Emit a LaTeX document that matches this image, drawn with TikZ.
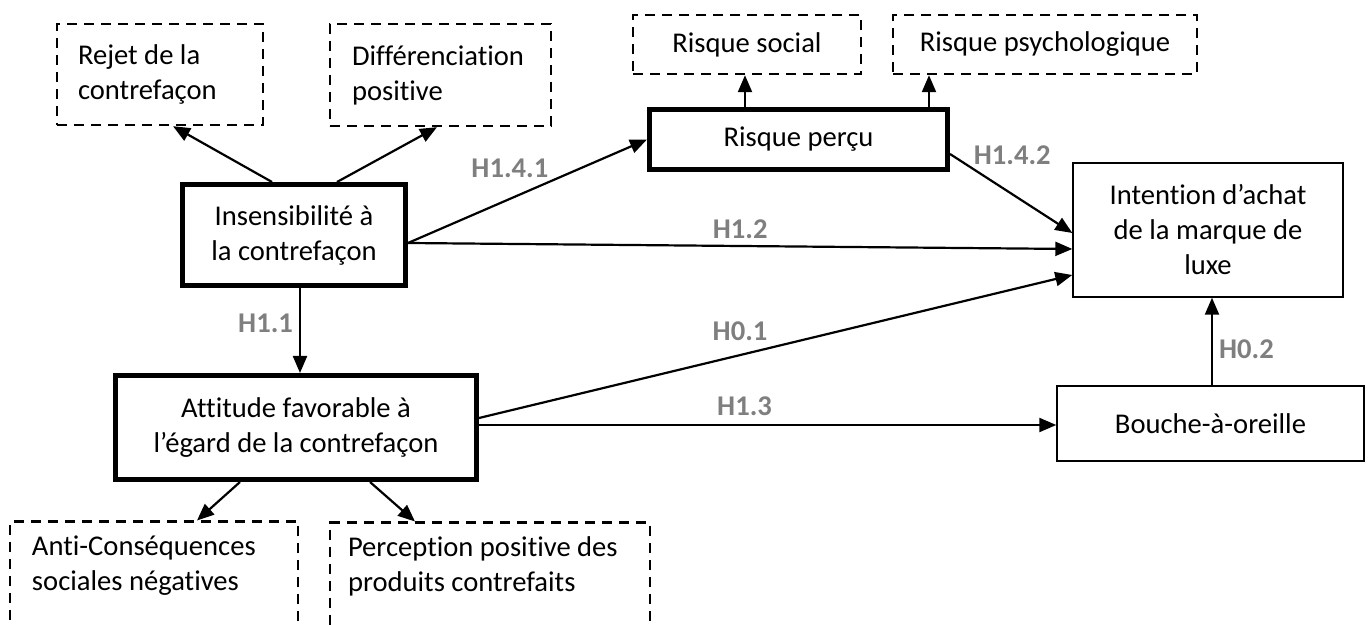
\documentclass[tikz,border=0pt]{standalone}
\usepackage{fontspec}
\setmainfont[Ligatures=CommonOff]{Carlito}
\usetikzlibrary{arrows.meta}

\definecolor{hypgray}{RGB}{127,127,127}

\tikzset{
  construct/.style={draw, line width=2.5pt, align=center, inner sep=2pt},
  dimension/.style={draw, line width=1.2pt, dash pattern=on 5pt off 3.5pt, align=flush left, inner ysep=4pt},
  outcome/.style={draw, line width=0.7pt, align=center},
  link/.style={draw, line width=1.1pt, -{Triangle[length=8.5pt,width=7pt]}},
  hyp/.style={text=hypgray, font=\fontsize{14.3}{16}\selectfont\bfseries, inner sep=1pt},
}

\begin{document}
\begin{tikzpicture}[x=0.5pt, y=-0.5pt, font=\fontsize{14.3}{17.5}\selectfont]
  \useasboundingbox (0,0) rectangle (1372,625);

  % constructs (thick frames)
  \node[construct, minimum width=111.5pt, minimum height=50.5pt] (insens) at (294,235) {Insensibilité à\\la contrefaçon};
  \node[construct, minimum width=180.5pt, minimum height=52pt] (attitude) at (296,427.5) {Attitude favorable à\\l’égard de la contrefaçon};
  \node[construct, minimum width=149pt, minimum height=30pt] (risque) at (798.5,139.5) {Risque perçu};

  % dimensions (dashed frames)
  \node[dimension, minimum height=50.5pt, inner xsep=10.5pt, text width=82pt] (rejet) at (160,74.5) {Rejet de la\\contrefaçon};
  \node[dimension, minimum height=51pt, inner xsep=11pt, text width=88.5pt] (diff) at (440.5,75) {Différenciation\\positive};
  \node[dimension, align=center, minimum width=114pt, minimum height=29.5pt] (social) at (747,44.5) {Risque social};
  \node[dimension, align=center, minimum width=152pt, minimum height=29.5pt] (psycho) at (1045,44.5) {Risque psychologique};
  \node[dimension, anchor=north, inner xsep=11pt, inner ysep=7pt, text width=122pt] (anti) at (154,520.5) {Anti-Conséquences\\sociales négatives\\\mbox{}};
  \node[dimension, anchor=north, inner xsep=9pt, inner ysep=7pt, text width=142pt] (percep) at (490,521.5) {Perception positive des\\produits contrefaits\\\mbox{}};

  % outcomes
  \node[outcome, minimum width=135pt, minimum height=67pt] (intention) at (1208,230) {Intention d’achat\\de la marque de\\luxe};
  \node[outcome, minimum width=153.5pt, minimum height=37.5pt] (bouche) at (1210.5,423.5) {Bouche-à-oreille};

  % construct -> dimension
  \draw[link] ([xshift=-11pt]insens.north) -- ([xshift=6.5pt]rejet.south);
  \draw[link] ([xshift=21.5pt]insens.north) -- ([xshift=-1.75pt]diff.south);
  \draw[link] ([xshift=-28pt]attitude.south) -- ([xshift=21.5pt]anti.north);
  \draw[link] ([xshift=37pt]attitude.south) -- ([xshift=-37.5pt]percep.north);
  \draw[link] ([xshift=-26.75pt]risque.north) -- ([xshift=-1pt]social.south);
  \draw[link] ([xshift=65.25pt]risque.north) -- ([xshift=-58pt]psycho.south);

  % hypotheses
  \draw[link] ([xshift=3pt]insens.south) -- node[hyp, pos=0.42, left=2pt] (h11) {H1.1} ([xshift=2pt]attitude.north);
  \draw[link] ([yshift=-4pt]insens.east) -- node[hyp, pos=0.6, anchor=south east] (h141) {H1.4.1} (risque.west);
  \draw[link] ([yshift=-4pt]insens.east) -- node[hyp, above=2pt] (h12) {H1.2} ([yshift=-9.5pt]intention.west);
  \draw[link] ([yshift=-7.25pt]risque.east) -- node[hyp, pos=0.17, anchor=south west] (h142) {H1.4.2} ([yshift=-1.5pt]intention.west);
  \draw[link] ([yshift=4.75pt]attitude.east) -- node[hyp, pos=0.44, above=5.5pt] (h01) {H0.1} ([yshift=-22.5pt]intention.west);
  \draw[link] ([yshift=1.25pt]attitude.east) -- node[hyp, pos=0.46, above=3pt] (h13) {H1.3} ([yshift=-0.75pt]bouche.west);
  \draw[link] ([xshift=0.75pt]bouche.north) -- node[hyp, pos=0.41, right=2pt] (h02) {H0.2} ([xshift=2pt]intention.south);
\end{tikzpicture}
\end{document}
